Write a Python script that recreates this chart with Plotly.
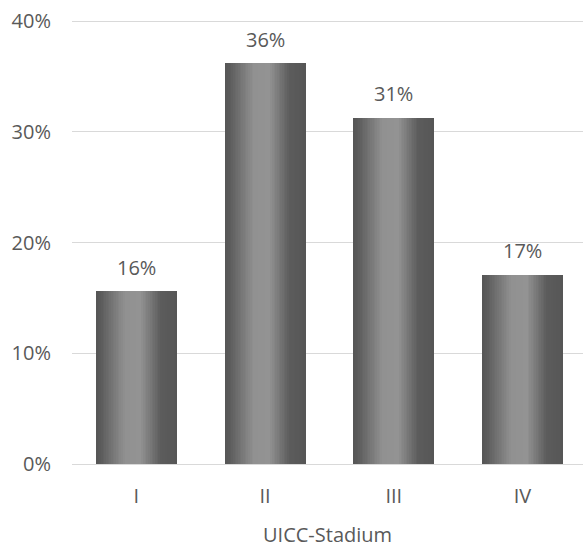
import plotly.graph_objects as go

# Share of patients per UICC stage
stages = ["I", "II", "III", "IV"]
shares = [0.156, 0.362, 0.313, 0.171]
y_ticks = [0, 0.1, 0.2, 0.3, 0.4]
x_title = "UICC-Stadium"

FONT = "Open Sans"
TEXT_COLOR = "#595959"
GRID_COLOR = "#d9d9d9"

BAR_WIDTH = 0.63
N_SLICES = 48

# horizontal shading profile across a bar: (position 0..1, grey level)
shade_stops = [(0.0, 0x55), (0.06, 0x5b), (0.36, 0x91), (0.55, 0x93),
               (0.80, 0x5c), (1.0, 0x56)]


def grey_at(t):
    for (t0, g0), (t1, g1) in zip(shade_stops[:-1], shade_stops[1:]):
        if t0 <= t <= t1:
            g = g0 + (g1 - g0) * (t - t0) / (t1 - t0)
            g = int(round(g))
            return f"rgb({g},{g},{g})"
    g = shade_stops[-1][1]
    return f"rgb({g},{g},{g})"


fig = go.Figure()
slice_w = BAR_WIDTH / N_SLICES
for i in range(N_SLICES):
    t = (i + 0.5) / N_SLICES
    fig.add_trace(go.Bar(
        x=stages,
        y=shares,
        width=slice_w * 1.6 if i < N_SLICES - 1 else slice_w,
        offset=-BAR_WIDTH / 2 + i * slice_w,
        marker=dict(color=grey_at(t), line=dict(width=0)),
        showlegend=False,
        hoverinfo="skip" if i else "x+y",
    ))

# value labels above the bars
for s, v in zip(stages, shares):
    fig.add_annotation(
        x=s, y=v, text=f"{round(v * 100):.0f}%",
        showarrow=False, yanchor="middle", yshift=24,
        font=dict(family=FONT, size=20, color=TEXT_COLOR),
    )

# category axis title below the tick labels
fig.add_annotation(
    xref="paper", yref="paper", x=0.5, y=-0.158,
    text=x_title, showarrow=False, xanchor="center", yanchor="middle",
    borderpad=0,
    font=dict(family=FONT, size=20, color=TEXT_COLOR),
)

fig.update_layout(
    width=583, height=546,
    margin=dict(l=72, r=0, t=19, b=82),
    plot_bgcolor="white", paper_bgcolor="white",
    barmode="overlay",
    bargap=0,
    font=dict(family=FONT, size=20, color=TEXT_COLOR),
    xaxis=dict(
        range=[-0.5, 3.47],
        showgrid=False, zeroline=False, showline=False,
        ticks="", ticklabelstandoff=18,
        tickfont=dict(family=FONT, size=20, color=TEXT_COLOR),
    ),
    yaxis=dict(
        range=[0, 0.402],
        tickvals=y_ticks, tickformat=".0%",
        showgrid=True, gridcolor=GRID_COLOR, gridwidth=1.3,
        zeroline=True, zerolinecolor=GRID_COLOR, zerolinewidth=1.3,
        showline=False, ticks="", ticklabelstandoff=20,
        tickfont=dict(family=FONT, size=20, color=TEXT_COLOR),
    ),
)

fig.write_html("out.html")
